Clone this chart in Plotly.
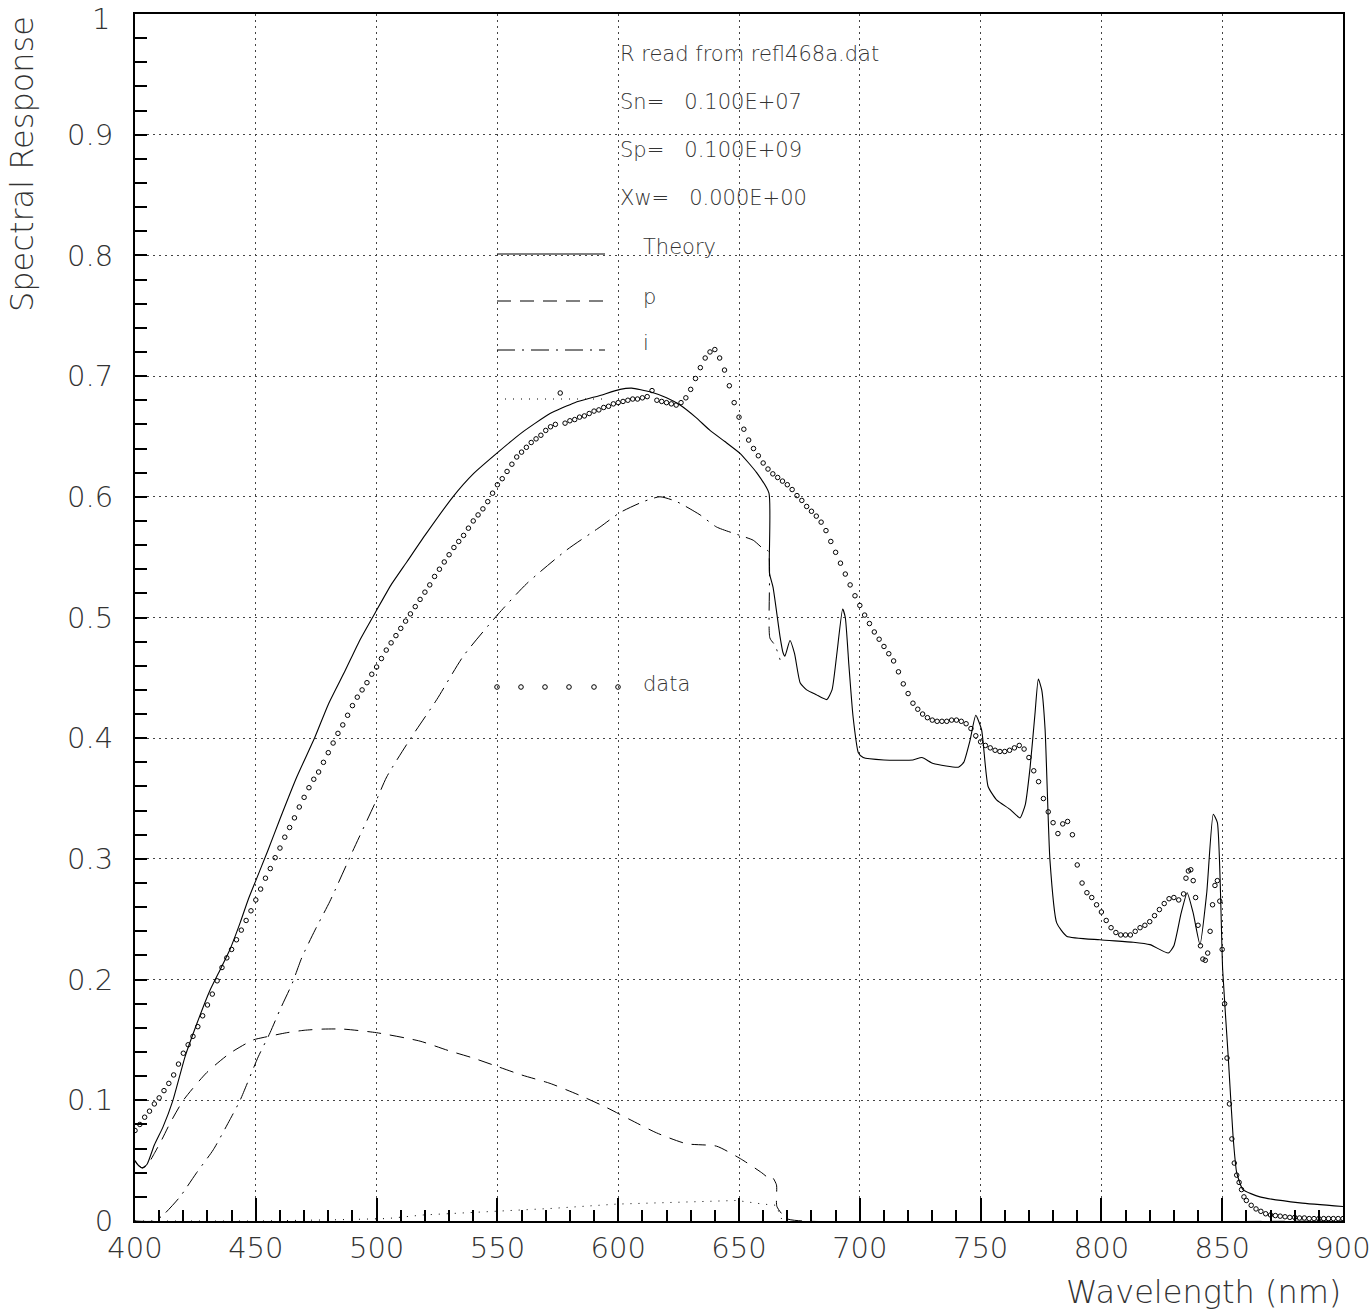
import plotly.graph_objects as go

# ---------------- data ----------------
# Theory (total response)
theory_nm = [400, 401, 403, 405, 408, 411.6, 415.7, 420.7, 425.7, 431, 435.2, 439.3, 443.5, 446.8,
             450, 455, 460, 467, 474.5, 480, 487, 493, 500, 506, 512.5, 520, 531.6, 540, 550.3, 560,
             571.8, 582, 592.5, 600.8, 605.6, 613.2, 620, 625.6, 632, 638, 644, 650.4, 657.3, 662.4,
             662.6, 664.1, 667, 668.2, 669, 671.1, 673, 675.3, 678, 682, 686.3, 688.5, 690.5, 692.9,
             694, 695.5, 697.2, 699.4, 701.4, 710, 722, 725.7, 730.4, 740.8, 743, 745.6, 748, 750.4,
             753.1, 756.6, 762.2, 766.3, 768.5, 770.5, 772.5, 773.9, 775.3, 776.7, 778.7, 781.5, 785.6,
             799.4, 813.2, 820.1, 827.7, 830, 833, 835.5, 838, 840.8, 843.6, 846.3, 848, 850.2, 852.5,
             854.5, 856, 858.6, 865.6, 882.2, 900]
theory_resp = [0.050, 0.047, 0.044, 0.047, 0.063, 0.078, 0.100, 0.136, 0.164, 0.191, 0.208, 0.225, 0.247, 0.266,
               0.282, 0.307, 0.333, 0.368, 0.401, 0.428, 0.456, 0.481, 0.506, 0.527, 0.546, 0.568, 0.600, 0.619, 0.637, 0.653,
               0.669, 0.678, 0.684, 0.689, 0.690, 0.687, 0.682, 0.676, 0.666, 0.655, 0.646, 0.636, 0.620, 0.603,
               0.537, 0.525, 0.484, 0.471, 0.468, 0.481, 0.470, 0.446, 0.440, 0.436, 0.432, 0.440, 0.470, 0.507,
               0.500, 0.460, 0.418, 0.388, 0.384, 0.382, 0.382, 0.384, 0.379, 0.376, 0.380, 0.398, 0.419, 0.407,
               0.360, 0.349, 0.341, 0.334, 0.345, 0.376, 0.420, 0.449, 0.440, 0.407, 0.299, 0.247, 0.236,
               0.233, 0.231, 0.229, 0.222, 0.228, 0.255, 0.272, 0.255, 0.229, 0.272, 0.337, 0.330, 0.208, 0.136,
               0.070, 0.040, 0.026, 0.020, 0.015, 0.012]

# p-layer contribution
p_nm = [400, 401, 403, 405, 408, 411, 414.5, 420, 429.7, 439.3, 448.9, 453, 462.8, 470, 477.8, 486, 500,
        518, 530, 540, 550, 560, 571.8, 584.2, 595.2, 604.9, 615.9, 628.3, 640.7, 651.1, 659.4, 662.1,
        663.5, 665.5, 665.7, 669.7, 676.5, 900]
p_resp = [0.050, 0.047, 0.044, 0.046, 0.056, 0.067, 0.081, 0.100, 0.123, 0.139, 0.150, 0.152, 0.156, 0.158, 0.159, 0.159, 0.156,
          0.149, 0.141, 0.135, 0.128, 0.121, 0.114, 0.104, 0.094, 0.084, 0.073, 0.064, 0.062, 0.051, 0.040, 0.036,
          0.037, 0.030, 0.012, 0.002, 0.0, 0.0]

# i-layer contribution
i_nm = [400, 408, 411.7, 418.6, 425.5, 432.4, 439.3, 443.5, 451, 455.9, 460, 465.1, 469, 474.5, 480.7, 490,
        500, 504.2, 513.8, 524.9, 535.9, 550.4, 562.1, 578.7, 592.5, 600.8, 610.4, 617.3, 624.2, 633.9,
        640.7, 650.4, 655.9, 660, 662.1, 662.8, 664.9, 667]
i_resp = [0.0, 0.0, 0.005, 0.020, 0.040, 0.059, 0.084, 0.100, 0.136, 0.156, 0.175, 0.197, 0.218, 0.241, 0.265, 0.306,
          0.349, 0.368, 0.399, 0.432, 0.468, 0.503, 0.528, 0.556, 0.575, 0.587, 0.596, 0.600, 0.596, 0.585,
          0.575, 0.568, 0.564, 0.557, 0.555, 0.483, 0.477, 0.465]

# n-layer contribution
n_nm = [400, 450, 483.4, 504.2, 519.3, 540, 560, 573.1, 599.4, 627, 649, 660, 665.6, 666.7, 668]
n_resp = [0.0, 0.0, 0.001, 0.002, 0.005, 0.007, 0.009, 0.0105, 0.014, 0.016, 0.017, 0.014, 0.013, 0.006, 0.0]

# measured data (refl468a.dat)
data_nm = list(range(400, 836, 2)) + list(range(835, 860)) + list(range(860, 901, 2))
data_resp = [
    0.075, 0.080, 0.086, 0.091, 0.097, 0.102, 0.108, 0.114, 0.121, 0.130,
    0.139, 0.146, 0.153, 0.161, 0.170, 0.179, 0.188, 0.199, 0.210, 0.218,
    0.225, 0.233, 0.241, 0.249, 0.257, 0.266, 0.275, 0.284, 0.292, 0.301,
    0.309, 0.318, 0.326, 0.334, 0.343, 0.351, 0.359, 0.366, 0.372, 0.380,
    0.388, 0.396, 0.404, 0.411, 0.419, 0.427, 0.434, 0.440, 0.446, 0.453,
    0.459, 0.466, 0.473, 0.479, 0.485, 0.491, 0.497, 0.503, 0.509, 0.515,
    0.521, 0.527, 0.534, 0.540, 0.546, 0.552, 0.558, 0.563, 0.568, 0.574,
    0.580, 0.585, 0.590, 0.596, 0.603, 0.610, 0.615, 0.621, 0.627, 0.633,
    0.637, 0.641, 0.645, 0.648, 0.651, 0.655, 0.658, 0.660, 0.686, 0.661,
    0.663, 0.664, 0.666, 0.667, 0.669, 0.671, 0.672, 0.674, 0.675, 0.677,
    0.678, 0.679, 0.680, 0.681, 0.681, 0.682, 0.683, 0.688, 0.680, 0.679,
    0.678, 0.677, 0.676, 0.678, 0.682, 0.689, 0.698, 0.707, 0.715, 0.720,
    0.722, 0.715, 0.705, 0.692, 0.678, 0.666, 0.656, 0.647, 0.640, 0.634,
    0.628, 0.623, 0.619, 0.616, 0.613, 0.610, 0.606, 0.601, 0.597, 0.592,
    0.588, 0.584, 0.579, 0.572, 0.563, 0.554, 0.545, 0.536, 0.527, 0.518,
    0.510, 0.502, 0.495, 0.488, 0.482, 0.476, 0.470, 0.464, 0.455, 0.445,
    0.437, 0.429, 0.424, 0.420, 0.417, 0.415, 0.414, 0.414, 0.414, 0.415,
    0.415, 0.414, 0.412, 0.408, 0.402, 0.397, 0.394, 0.392, 0.390, 0.389,
    0.389, 0.390, 0.392, 0.394, 0.391, 0.384, 0.373, 0.364, 0.350, 0.339,
    0.330, 0.321, 0.329, 0.331, 0.320, 0.295, 0.280, 0.272, 0.268, 0.262,
    0.256, 0.249, 0.243, 0.239, 0.237, 0.237, 0.237, 0.240, 0.243, 0.245,
    0.248, 0.253, 0.258, 0.263, 0.267, 0.268, 0.266, 0.271,
    # 835 .. 859 in 1 nm steps
    0.284, 0.290, 0.291, 0.282, 0.268, 0.245, 0.228, 0.217, 0.216, 0.222,
    0.240, 0.262, 0.278, 0.282, 0.265, 0.225, 0.180, 0.135, 0.097, 0.068,
    0.048, 0.038, 0.032, 0.026, 0.020,
    # 860 .. 900 in 2 nm steps
    0.017, 0.013, 0.010, 0.008, 0.006, 0.005, 0.0045, 0.004, 0.0035, 0.003,
    0.003, 0.0025, 0.0025, 0.002, 0.002, 0.002, 0.002, 0.002, 0.002, 0.002, 0.002,
]

assert len(theory_nm) == len(theory_resp)
assert len(p_nm) == len(p_resp)
assert len(i_nm) == len(i_resp)
assert len(n_nm) == len(n_resp)
assert len(data_nm) == len(data_resp)

x_ticks = [400, 450, 500, 550, 600, 650, 700, 750, 800, 850, 900]
y_ticks = [0, 0.1, 0.2, 0.3, 0.4, 0.5, 0.6, 0.7, 0.8, 0.9, 1]
# the top label ("1") is drawn separately, slightly lowered so it stays on the page
y_tick_text = ["0", "0.1", "0.2", "0.3", "0.4", "0.5", "0.6", "0.7", "0.8", "0.9", ""]
y_top_label = "1"

info_lines = ["R read from refl468a.dat",
              "Sn=\u00a0\u00a0 0.100E+07",
              "Sp=\u00a0\u00a0 0.100E+09",
              "Xw=\u00a0\u00a0 0.000E+00"]
key_labels = ["Theory", "p", "i", "", "data"]

# ---------------- style ----------------
FONT = "DejaVu Sans"
W = 200
TXT = "#333333"
INK = "black"

fig = go.Figure()

fig.add_trace(go.Scatter(x=n_nm, y=n_resp, mode="lines",
                         line=dict(color=INK, width=1, dash="1px,7px")))
fig.add_trace(go.Scatter(x=p_nm, y=p_resp, mode="lines",
                         line=dict(color=INK, width=1, dash="14px,9px", shape="spline", smoothing=0.6)))
fig.add_trace(go.Scatter(x=i_nm, y=i_resp, mode="lines",
                         line=dict(color=INK, width=1, dash="18px,7px,2px,7px", shape="spline", smoothing=0.6)))
fig.add_trace(go.Scatter(x=theory_nm, y=theory_resp, mode="lines",
                         line=dict(color=INK, width=1.1, shape="spline", smoothing=0.5)))
fig.add_trace(go.Scatter(x=data_nm, y=data_resp, mode="markers",
                         marker=dict(symbol="circle-open", size=4.5, color=INK,
                                     line=dict(width=1, color=INK))))

# plot area geometry in pixels (for the key drawn in paper coordinates)
PLOT_W, PLOT_H = 1208, 1207


def px_x(px):
    return (px - 135) / PLOT_W


def px_y(py):
    return (1221 - py) / PLOT_H


shapes = []
annotations = []

# key: line samples
key_rows = [(254, None), (301, "14px,9px"), (350, "18px,7px,2px,7px"), (399, "1px,7px")]
for py, dash in key_rows:
    line = dict(color=INK, width=1)
    if dash:
        line["dash"] = dash
    shapes.append(dict(type="line", xref="paper", yref="paper",
                       x0=px_x(497), x1=px_x(605), y0=px_y(py), y1=px_y(py), line=line))

# key: data markers
r = 2.3
for cx in [497, 521, 545, 569, 594, 618]:
    shapes.append(dict(type="circle", xref="paper", yref="paper",
                       x0=px_x(cx - r), x1=px_x(cx + r), y0=px_y(687 + r), y1=px_y(687 - r),
                       line=dict(color=INK, width=1)))

# key labels
for text, py in zip(key_labels, [247, 297, 343, 399, 684]):
    if text:
        annotations.append(dict(text=text, xref="paper", yref="paper", x=px_x(641), y=px_y(py),
                                xanchor="left", yanchor="middle", showarrow=False,
                                font=dict(family=FONT, size=21, color=TXT, weight=W)))

# info text block
for text, py in zip(info_lines, [54, 102, 150, 198]):
    annotations.append(dict(text=text, xref="paper", yref="paper", x=px_x(618), y=px_y(py),
                            xanchor="left", yanchor="middle", showarrow=False,
                            font=dict(family=FONT, size=21, color=TXT, weight=W)))

# top y tick label
annotations.append(dict(text=y_top_label, xref="paper", yref="paper", x=px_x(112), y=px_y(19),
                        xanchor="right", yanchor="middle", showarrow=False,
                        font=dict(family=FONT, size=29, color=TXT, weight=W)))

# axis titles
annotations.append(dict(text="Wavelength (nm)", xref="paper", yref="paper", x=1.0, y=px_y(1292),
                        xanchor="right", yanchor="middle", showarrow=False,
                        font=dict(family=FONT, size=32, color=TXT, weight=W)))
annotations.append(dict(text="Spectral Response", xref="paper", yref="paper", x=px_x(22), y=1.0,
                        xanchor="center", yanchor="top", textangle=-90, showarrow=False,
                        font=dict(family=FONT, size=32, color=TXT, weight=W)))

grid = dict(showgrid=True, gridcolor="#444444", gridwidth=1, griddash="2px,4px")

fig.update_layout(
    width=1371, height=1310,
    margin=dict(l=135, r=28, t=14, b=89, autoexpand=False),
    paper_bgcolor="white", plot_bgcolor="white",
    showlegend=False,
    shapes=shapes, annotations=annotations,
    xaxis=dict(range=[400, 900], tickmode="array", tickvals=x_ticks, ticks="inside", ticklen=23, tickwidth=1.5,
               tickcolor=INK, showline=True, linecolor=INK, linewidth=2, mirror=True, automargin=False,
               zeroline=False, tickfont=dict(family=FONT, size=29, color=TXT, weight=W),
               ticklabeloverflow="allow",
               minor=dict(dtick=10, tick0=400, ticks="inside", ticklen=11, tickwidth=1.5, tickcolor=INK, showgrid=False),
               **grid),
    yaxis=dict(range=[0, 1], tickmode="array", tickvals=y_ticks, ticktext=y_tick_text, ticks="inside", ticklen=12,
               tickwidth=1.5, tickcolor=INK, showline=True, linecolor=INK, linewidth=2, mirror=True,
               automargin=False, zeroline=False, ticklabeloverflow="allow",
               tickfont=dict(family=FONT, size=29, color=TXT, weight=W),
               ticklabelstandoff=14,
               minor=dict(dtick=0.02, tick0=0, ticks="inside", ticklen=12, tickwidth=1.5, tickcolor=INK, showgrid=False),
               **grid),
)

fig.write_html("out.html", config=dict(displayModeBar=False))
